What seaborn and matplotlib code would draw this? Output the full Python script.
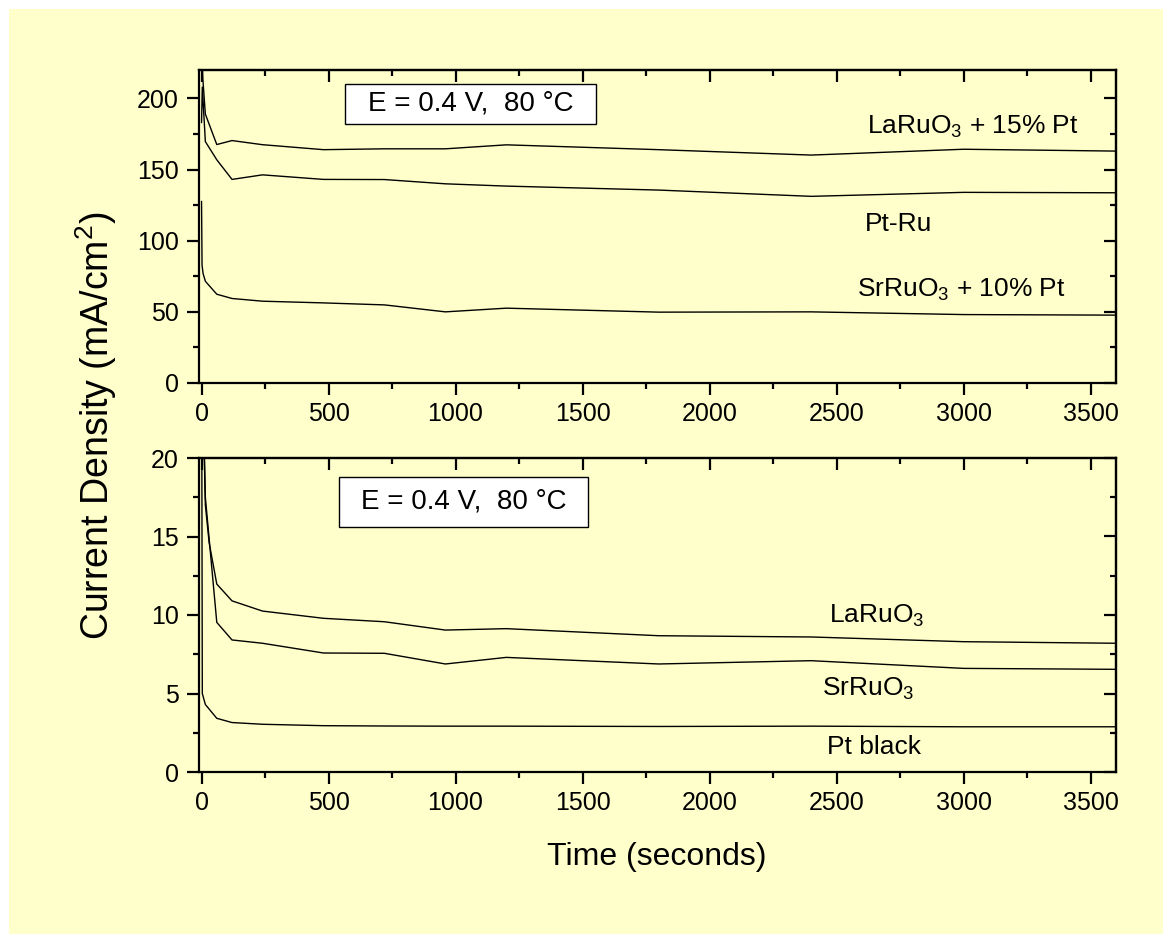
import matplotlib
matplotlib.use("Agg")
import matplotlib.pyplot as plt
from matplotlib.patches import Rectangle
from matplotlib.ticker import MultipleLocator
import numpy as np
import pandas as pd
import seaborn as sns

sns.set_style("ticks")
plt.rcParams["font.family"] = ["Liberation Sans", "DejaVu Sans"]
plt.rcParams["mathtext.default"] = "regular"
plt.rcParams["text.color"] = "black"
plt.rcParams["axes.labelcolor"] = "black"
plt.rcParams["xtick.color"] = "black"
plt.rcParams["ytick.color"] = "black"

# ---- data: current density vs time at E = 0.4 V, 80 C ----
# upper panel (mA/cm^2)
t_la15 = [0, 5, 15, 60, 120, 240, 480, 720, 960, 1200, 1800, 2400, 3000, 3600]
j_la15 = [240, 214, 189, 167.6, 170.4, 167.5, 164.0, 164.6, 164.6, 167.4, 164.0, 160.2, 164.3, 163.0]

t_ptru = [0, 3, 15, 60, 120, 240, 480, 720, 960, 1200, 1800, 2400, 3000, 3600]
j_ptru = [183, 208, 169.7, 156.9, 143.1, 146.3, 143.1, 143.0, 140.0, 138.4, 135.6, 131.2, 134.0, 133.7]

t_sr10 = [0, 2, 6, 15, 60, 120, 240, 480, 720, 960, 1200, 1800, 2400, 3000, 3600]
j_sr10 = [127.7, 82.8, 77.0, 71.5, 62.4, 59.4, 57.5, 56.3, 54.9, 50.0, 52.6, 49.8, 50.0, 48.1, 47.7]

# lower panel (mA/cm^2)
t_la = [0, 15, 30, 60, 120, 240, 480, 720, 960, 1200, 1800, 2400, 3000, 3600]
j_la = [28, 17.0, 14.6, 11.97, 10.9, 10.25, 9.79, 9.57, 9.04, 9.13, 8.68, 8.6, 8.3, 8.2]

t_sr = [0, 15, 60, 120, 240, 480, 720, 960, 1200, 1800, 2400, 3000, 3600]
j_sr = [28, 17.5, 9.53, 8.41, 8.2, 7.58, 7.56, 6.88, 7.3, 6.88, 7.09, 6.6, 6.54]

t_ptb = [0, 3, 15, 60, 120, 240, 480, 720, 960, 1200, 1800, 2400, 3000, 3600]
j_ptb = [30, 5.0, 4.3, 3.42, 3.15, 3.04, 2.95, 2.93, 2.92, 2.92, 2.90, 2.92, 2.88, 2.88]

upper_series = [
    ("LaRuO$_3$ + 15% Pt", t_la15, j_la15, 3035, 180.3),
    ("Pt-Ru", t_ptru, j_ptru, 2745, 111.5),
    ("SrRuO$_3$ + 10% Pt", t_sr10, j_sr10, 2993, 65.2),
]
lower_series = [
    ("LaRuO$_3$", t_la, j_la, 2657, 9.94),
    ("SrRuO$_3$", t_sr, j_sr, 2626, 5.29),
    ("Pt black", t_ptb, j_ptb, 2646, 1.59),
]

x_ticks = [0, 500, 1000, 1500, 2000, 2500, 3000, 3500]
upper_yticks = [0, 50, 100, 150, 200]
lower_yticks = [0, 5, 10, 15, 20]
condition_text = "E = 0.4 V,  80 \u00b0C"

BG = "#ffffcc"
W, H = 1163, 934
fig = plt.figure(figsize=(W / 100, H / 100), dpi=100, facecolor="white")
fig.patches.append(Rectangle((9 / W, 0), 1 - 9 / W, 1 - 9 / H,
                             transform=fig.transFigure, facecolor=BG,
                             edgecolor="none", zorder=-10))

ax_up = fig.add_axes([199 / W, 1 - 383 / H, 917 / W, 313 / H])
ax_lo = fig.add_axes([199 / W, 1 - 772 / H, 917 / W, 314 / H])


def style_axes(ax, yticks, ylim, yminor):
    ax.set_facecolor(BG)
    ax.set_xlim(-10, 3600)
    ax.set_ylim(*ylim)
    ax.set_xticks(x_ticks)
    ax.set_yticks(yticks)
    ax.xaxis.set_minor_locator(MultipleLocator(250))
    ax.yaxis.set_minor_locator(MultipleLocator(yminor))
    for s in ax.spines.values():
        s.set_visible(True)
        s.set_linewidth(1.6)
        s.set_color("black")
    ax.tick_params(which="major", direction="out", length=8.6, width=1.6,
                   labelsize=18, colors="black", pad=5)
    ax.tick_params(which="minor", direction="out", length=4.3, width=1.6,
                   colors="black")
    ax.tick_params(axis="y", which="major", pad=6)
    ax.set_xlabel("")
    ax.set_ylabel("")
    # mirrored inward ticks on top and right
    top = ax.secondary_xaxis("top")
    top.set_xticks(x_ticks)
    top.xaxis.set_minor_locator(MultipleLocator(250))
    top.tick_params(which="major", direction="in", length=8.6, width=1.6,
                    labeltop=False, colors="black")
    top.tick_params(which="minor", direction="in", length=4.3, width=1.6,
                    colors="black")
    top.spines["top"].set_linewidth(1.6)
    right = ax.secondary_yaxis("right")
    right.set_yticks(yticks)
    right.yaxis.set_minor_locator(MultipleLocator(yminor))
    right.tick_params(which="major", direction="in", length=8.6, width=1.6,
                      labelright=False, colors="black")
    right.tick_params(which="minor", direction="in", length=4.3, width=1.6,
                      colors="black")
    right.spines["right"].set_linewidth(1.6)


def draw_panel(ax, series):
    for label, t, j, tx, ty in series:
        df = pd.DataFrame({"t": t, "j": j})
        sns.lineplot(data=df, x="t", y="j", ax=ax, color="black",
                     linewidth=1.0, estimator=None, sort=False)
        ax.text(tx, ty, label, fontsize=19, ha="center", va="center",
                color="black")


draw_panel(ax_up, upper_series)
draw_panel(ax_lo, lower_series)
style_axes(ax_up, upper_yticks, (0, 220), 25)
style_axes(ax_lo, lower_yticks, (0, 20), 2.5)

# condition boxes
for ax, (x0, x1, y0, y1) in [(ax_up, (0.1592, 0.4329, 0.8275, 0.9553)),
                             (ax_lo, (0.1527, 0.4242, 0.7803, 0.9395))]:
    ax.add_patch(Rectangle((x0, y0), x1 - x0, y1 - y0, transform=ax.transAxes,
                           facecolor="white", edgecolor="black", linewidth=1.0,
                           zorder=5))
    ax.text((x0 + x1) / 2, (y0 + y1) / 2, condition_text, transform=ax.transAxes,
            fontsize=20, ha="center", va="center", zorder=6, color="black")

fig.text(657 / W, 1 - 865 / H, "Time (seconds)", fontsize=23,
         ha="center", va="baseline", color="black")
fig.text(96 / W, 1 - 426 / H, "Current Density (mA/cm$^2$)", fontsize=27,
         rotation=90, ha="center", va="center", color="black")

fig.savefig("out.png", dpi=100, facecolor="white")
